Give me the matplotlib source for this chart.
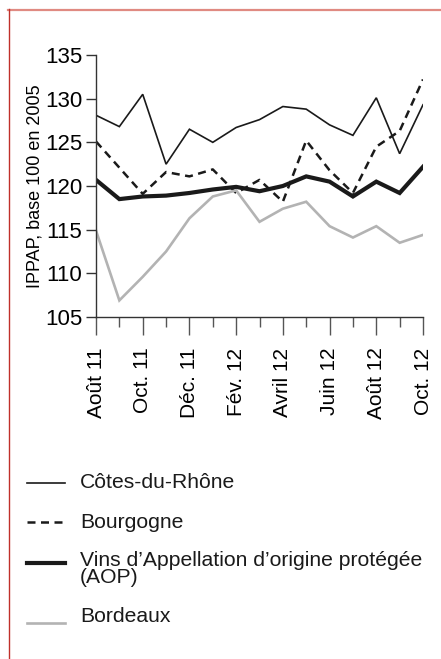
import matplotlib.pyplot as plt
from matplotlib.lines import Line2D

plt.rcParams['font.family'] = ['Liberation Sans', 'DejaVu Sans']

months = ["Août 11", "Sept. 11", "Oct. 11", "Nov. 11", "Déc. 11", "Janv. 12", "Fév. 12",
          "Mars 12", "Avril 12", "Mai 12", "Juin 12", "Juil. 12", "Août 12", "Sept. 12", "Oct. 12"]
cotes_du_rhone = [128.1, 126.8, 130.5, 122.5, 126.5, 125.0, 126.7, 127.6, 129.1, 128.8,
                  127.0, 125.8, 130.1, 123.7, 129.3]
bourgogne = [125.1, 122.1, 119.1, 121.6, 121.1, 121.9, 119.2, 120.7, 118.2, 125.2,
             121.8, 119.2, 124.5, 126.3, 132.2]
aop = [120.7, 118.5, 118.8, 118.9, 119.2, 119.6, 119.9, 119.4, 120.0, 121.1,
       120.5, 118.8, 120.5, 119.2, 122.2]
bordeaux = [114.9, 106.9, 109.6, 112.5, 116.3, 118.8, 119.5, 115.9, 117.4, 118.2,
            115.4, 114.1, 115.4, 113.5, 114.4]
yticks = [105, 110, 115, 120, 125, 130, 135]

series = [
    ("Côtes-du-Rhône", cotes_du_rhone, dict(color="#1a1a1a", lw=1.2, ls="-")),
    ("Bourgogne", bourgogne, dict(color="#1a1a1a", lw=1.8, ls=(0, (3.2, 2.2)))),
    ("Vins d\u2019Appellation d\u2019origine protégée\n(AOP)", aop, dict(color="#1a1a1a", lw=3.0, ls="-")),
    ("Bordeaux", bordeaux, dict(color="#b3b3b3", lw=1.9, ls="-")),
]

fig = plt.figure(figsize=(4.41, 6.59), dpi=100)
ax = fig.add_axes([96 / 441, 1 - 317 / 659, (423 - 96) / 441, (317 - 55) / 659])

x = list(range(len(months)))
for name, vals, st in series:
    ax.plot(x, vals, solid_joinstyle="miter", dash_capstyle="butt", **st)

ax.set_xlim(0, len(months) - 1)
ax.set_ylim(105, 135)
ax.set_yticks(yticks)
ax.set_yticklabels([str(v) for v in yticks], fontsize=16)
ax.set_xticks(x[::2])
ax.set_xticklabels(months[::2], rotation=90, fontsize=15)
ax.set_xticks(x[1::2], minor=True)
ax.tick_params(axis="x", which="major", length=13, width=1, color="#555555", pad=9)
ax.tick_params(axis="x", which="minor", length=7, width=1, color="#555555")
ax.tick_params(axis="y", length=7, width=1, color="#333333", pad=3)
for lbl in ax.get_xticklabels():
    lbl.set_x(lbl.get_position()[0])
for s in ["top", "right"]:
    ax.spines[s].set_visible(False)
for s in ["left", "bottom"]:
    ax.spines[s].set_color("#333333")
    ax.spines[s].set_linewidth(1)
ax.set_ylabel("IPPAP, base 100 en 2005", fontsize=13, labelpad=1)

# legend drawn below the plot
rows = [(483, 483), (522, 522), (563, 569), (623, 617)]
for (name, vals, st), (ly, ty) in zip(series, rows):
    fig.add_artist(Line2D([27 / 441, 65 / 441], [1 - ly / 659, 1 - ly / 659],
                          transform=fig.transFigure, **st))
    fig.text(80 / 441, 1 - ty / 659, name, fontsize=15.2, va="center", ha="left",
             linespacing=0.85, color="#1a1a1a")

# frame lines
fig.add_artist(Line2D([8 / 441, 1], [1 - 9.5 / 659, 1 - 9.5 / 659], transform=fig.transFigure,
                      color="#e08a82", lw=1.6))
fig.add_artist(Line2D([8.5 / 441, 8.5 / 441], [1 - 9 / 659, 0.002], transform=fig.transFigure,
                      color="#c0302a", lw=1.0))

fig.savefig("out.png", dpi=100)
